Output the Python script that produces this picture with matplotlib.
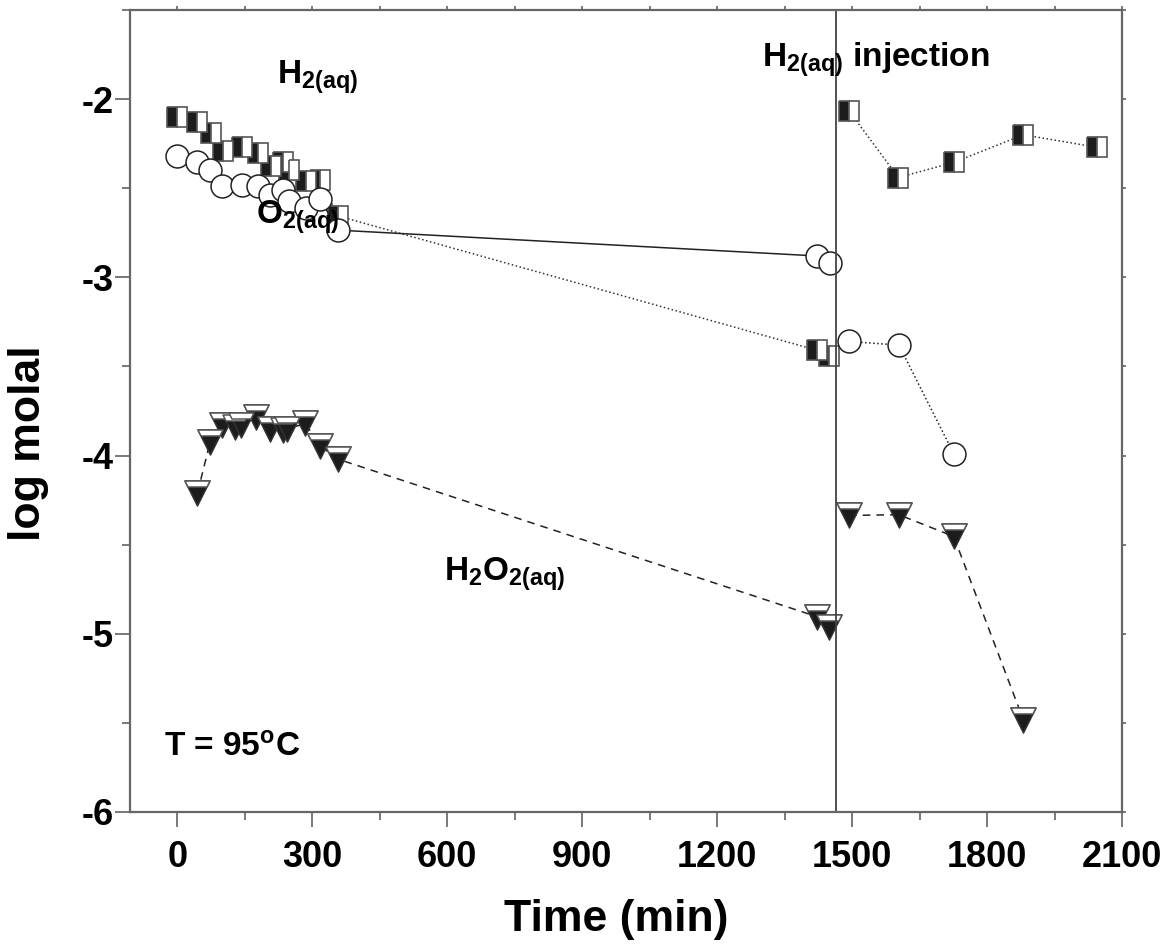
import matplotlib
matplotlib.use("Agg")
import matplotlib.pyplot as plt
from matplotlib.ticker import MultipleLocator
from matplotlib.path import Path

plt.rcParams['font.family'] = ['Liberation Sans', 'DejaVu Sans']
plt.rcParams['font.weight'] = 'bold'
plt.rcParams['axes.unicode_minus'] = False
plt.rcParams['mathtext.fontset'] = 'custom'
plt.rcParams['mathtext.rm'] = 'Liberation Sans:bold'
plt.rcParams['mathtext.it'] = 'Liberation Sans:bold'
plt.rcParams['mathtext.bf'] = 'Liberation Sans:bold'

# H2(aq) - half filled squares
h2_t_pre = [0, 45, 75, 101, 145, 179, 208, 234, 249, 286, 318, 357, 1423, 1449]
h2_pre = [-2.10, -2.13, -2.19, -2.29, -2.27, -2.30, -2.375, -2.35, -2.40,
          -2.46, -2.455, -2.655, -3.41, -3.44]
h2_t_post = [1493, 1603, 1726, 1881, 2044]
h2_post = [-2.065, -2.44, -2.355, -2.20, -2.27]

# O2(aq) - open circles
o2_t_pre = [0, 45, 73, 100, 145, 179, 206, 234, 248, 286, 318, 357, 1422, 1450]
o2_pre = [-2.32, -2.35, -2.40, -2.49, -2.48, -2.49, -2.54, -2.51, -2.57,
          -2.61, -2.56, -2.735, -2.88, -2.92]
o2_t_post = [1493, 1604, 1726]
o2_post = [-3.36, -3.38, -3.99]

# H2O2(aq) - half filled down triangles
h2o2_t_pre = [45, 73, 99, 129, 142, 176, 206, 234, 245, 285, 317, 357, 1423, 1449]
h2o2_pre = [-4.21, -3.925, -3.83, -3.84, -3.83, -3.785, -3.85, -3.855, -3.85,
            -3.82, -3.945, -4.02, -4.905, -4.96]
h2o2_t_post = [1493, 1604, 1726, 1881]
h2o2_post = [-4.336, -4.332, -4.454, -5.485]

t_inject = 1465

# down triangle and its white top band (same scale: max |coord| = 1)
tri_path = Path([(0, -1), (-1, 1), (1, 1), (0, -1)], closed=True)
band_path = Path([(-1, 1), (1, 1), (0.76, 0.52), (-0.76, 0.52), (-1, 1)], closed=True)

fig = plt.figure(figsize=(11.69, 9.47), dpi=100)
ax = fig.add_axes([0.1112, 0.1426, 0.8486, 0.8468])

sq = dict(marker='s', markersize=14, fillstyle='left', markerfacecolor='#1c1c1c',
          markerfacecoloralt='white', markeredgecolor='#555555', markeredgewidth=1.2,
          color='#333333', linestyle=':', linewidth=1.1)
ci = dict(marker='o', markersize=16.5, markerfacecolor='white',
          markeredgecolor='#222222', markeredgewidth=1.1, color='#222222', linewidth=1.1)
tri = dict(marker=tri_path, markersize=18, markerfacecolor='#1c1c1c',
           markeredgecolor='#333333', markeredgewidth=1.1,
           color='#222222', linestyle=(0, (5, 4)), linewidth=1.1)
band = dict(marker=band_path, markersize=18, markerfacecolor='white',
            markeredgecolor='#555555', markeredgewidth=1.1, linestyle='none')

ax.plot(h2_t_pre, h2_pre, **sq)
ax.plot(h2_t_post, h2_post, **sq)
ax.plot(o2_t_pre, o2_pre, linestyle='-', **ci)
ax.plot(o2_t_post, o2_post, linestyle=':', **ci)
ax.plot(h2o2_t_pre, h2o2_pre, **tri)
ax.plot(h2o2_t_pre, h2o2_pre, **band)
ax.plot(h2o2_t_post, h2o2_post, **tri)
ax.plot(h2o2_t_post, h2o2_post, **band)

ax.axvline(t_inject, color='#444444', linewidth=1.3)

ax.set_xlim(-105, 2100)
ax.set_ylim(-6, -1.5)
ax.xaxis.set_major_locator(MultipleLocator(300))
ax.xaxis.set_minor_locator(MultipleLocator(150))
ax.yaxis.set_major_locator(MultipleLocator(1))
ax.yaxis.set_minor_locator(MultipleLocator(0.5))

ax.tick_params(axis='both', which='major', direction='out', length=11, width=1.1,
               color='#555555', labelsize=26)
ax.tick_params(axis='both', which='minor', direction='out', length=6, width=1.1,
               color='#555555')
ax.tick_params(axis='x', which='major', pad=9)
ax.tick_params(axis='y', which='major', pad=1)
ax.tick_params(top=True, right=True, which='both')
for lab in ax.get_xticklabels() + ax.get_yticklabels():
    lab.set_fontweight('bold')
# short ticks on top and right
for tk in ax.xaxis.get_major_ticks() + ax.xaxis.get_minor_ticks():
    tk.tick2line.set_markersize(3)
for tk in ax.yaxis.get_major_ticks() + ax.yaxis.get_minor_ticks():
    tk.tick2line.set_markersize(3)

for s in ax.spines.values():
    s.set_color('#666666')
    s.set_linewidth(1.6)

ax.set_xlabel('Time (min)', fontsize=32, fontweight='bold')
ax.set_ylabel('log molal', fontsize=32, fontweight='bold')
ax.xaxis.set_label_coords(0.49, -0.108)
ax.yaxis.set_label_coords(-0.082, 0.46)

ax.text(222, -1.91, r'H$_{2(aq)}$', fontsize=24, fontweight='bold')
ax.text(174, -2.70, r'O$_{2(aq)}$', fontsize=24, fontweight='bold')
ax.text(594, -4.70, r'H$_2$O$_{2(aq)}$', fontsize=24, fontweight='bold')
ax.text(1299, -1.815, r'H$_{2(aq)}$ injection', fontsize=24, fontweight='bold')
ax.text(-29, -5.69, r'T = 95$^{\mathrm{o}}$C', fontsize=24, fontweight='bold')

fig.savefig('out.png', dpi=100)
